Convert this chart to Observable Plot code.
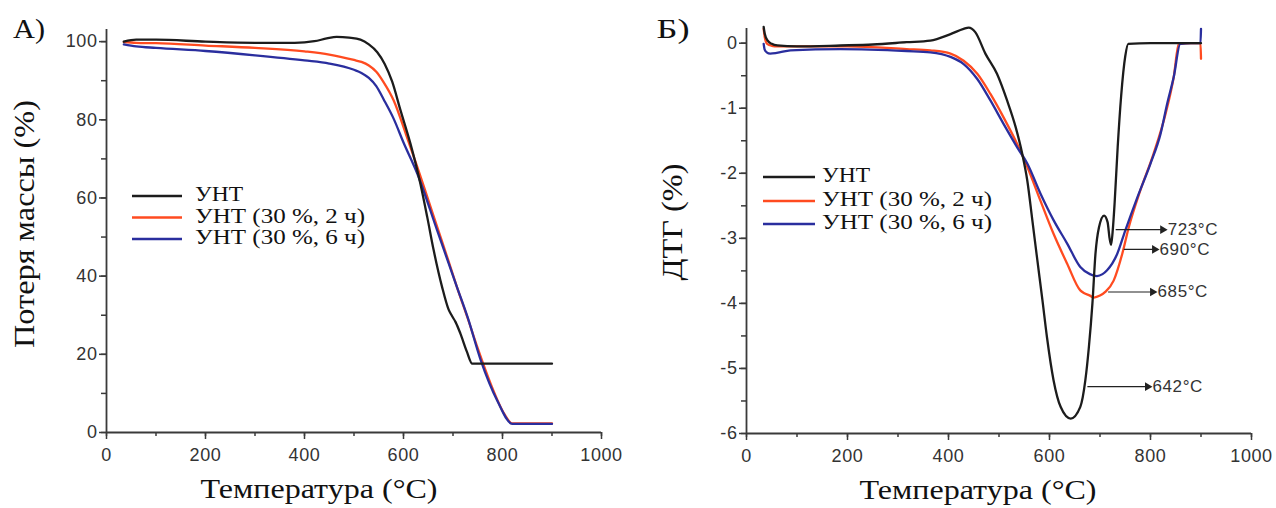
<!DOCTYPE html>
<html>
<head>
<meta charset="utf-8">
<script src="https://cdn.jsdelivr.net/npm/d3@7"></script>
<script src="https://cdn.jsdelivr.net/npm/@observablehq/plot@0.6"></script>
<style>
  html, body { margin: 0; padding: 0; background: #fff; }
  #wrap { position: relative; width: 1276px; height: 508px; overflow: hidden; }
  #wrap > svg, #wrap > figure { position: absolute; top: 0; margin: 0; }
</style>
</head>
<body>
<div id="wrap"></div>
<script>
// ---------- DATA ----------
const seriesNames = ["УНТ", "УНТ (30 %, 2 ч)", "УНТ (30 %, 6 ч)"];
const seriesColors = ["#1c1c1c", "#ff4b20", "#2a2e9e"];

// Panel А: TGA (mass loss, %)
const tgaT0 = [35, 60, 100, 200, 300, 380, 420, 445, 465, 490, 513, 530, 547, 562, 577, 594, 614, 634, 648, 661, 678, 691, 698, 705, 715, 728, 739, 760, 900];
const tgaV0 = [100.0, 100.5, 100.5, 100.0, 99.7, 99.7, 100.1, 100.8, 101.2, 101.0, 100.5, 99.3, 97.3, 94.3, 89.8, 82.4, 73.9, 63.7, 55.1, 46.6, 37.2, 31.5, 29.8, 28.3, 25.3, 20.7, 17.6, 17.6, 17.6];
const tgaT1 = [35, 60, 100, 200, 300, 400, 450, 500, 515, 530, 545, 560, 580, 605, 628, 650, 668, 690, 708, 730, 749, 776, 803, 820, 850, 900];
const tgaV1 = [99.9, 99.7, 99.6, 99.0, 98.4, 97.5, 96.7, 95.3, 94.8, 93.9, 92.3, 89.6, 85.0, 76.3, 67.9, 59.5, 52.6, 44.2, 37.2, 29.1, 21.9, 12.5, 4.9, 2.3, 2.3, 2.3];
const tgaT2 = [35, 60, 100, 200, 300, 400, 450, 500, 515, 530, 545, 560, 580, 600, 628, 668, 708, 730, 756, 790, 820, 850, 900];
const tgaV2 = [99.3, 98.8, 98.4, 97.6, 96.5, 95.2, 94.4, 92.8, 92.0, 90.7, 88.6, 85.2, 80.3, 74.2, 66.2, 51.7, 37.2, 29.3, 18.5, 8.0, 2.2, 2.2, 2.2];

// Panel Б: DTG (%)
const dtgT0 = [34, 36, 42, 50, 61, 100, 186, 250, 317, 364, 404, 430, 440, 453, 473, 496, 516, 533, 546, 556, 566, 576, 586, 595, 608, 622, 642, 661, 671, 678, 685, 691, 698, 708, 715, 719, 722, 725, 729, 735, 742, 750, 756, 800, 860, 900];
const dtgV0 = [0.25, 0.15, 0.04, -0.01, -0.035, -0.05, -0.035, -0.02, 0.015, 0.04, 0.14, 0.22, 0.24, 0.17, -0.16, -0.47, -0.88, -1.29, -1.70, -2.11, -2.72, -3.34, -3.95, -4.52, -5.18, -5.59, -5.77, -5.59, -5.18, -4.67, -4.0, -3.24, -2.83, -2.65, -2.75, -3.0, -3.1, -2.9, -2.45, -1.6, -0.8, -0.2, -0.01, 0, 0, 0];
const dtgT1 = [34, 36, 41, 50, 61, 100, 200, 317, 364, 404, 430, 457, 483, 509, 536, 556, 582, 608, 635, 661, 668, 680, 688, 700, 711, 727, 744, 757, 780, 806, 830, 846, 856, 880, 899, 900];
const dtgV1 = [0.22, 0.1, -0.01, -0.04, -0.05, -0.05, -0.05, -0.09, -0.11, -0.16, -0.27, -0.47, -0.78, -1.14, -1.55, -1.90, -2.42, -2.93, -3.39, -3.80, -3.84, -3.88, -3.91, -3.88, -3.82, -3.65, -3.24, -2.83, -2.26, -1.70, -1.08, -0.52, -0.01, 0, 0, -0.24];
const dtgT2 = [34, 36, 40, 47, 60, 87, 186, 317, 364, 404, 430, 457, 483, 509, 536, 556, 582, 608, 635, 661, 680, 694, 705, 714, 734, 750, 774, 800, 820, 833, 846, 859, 880, 899, 900];
const dtgV2 = [-0.01, -0.1, -0.14, -0.16, -0.15, -0.11, -0.09, -0.12, -0.14, -0.21, -0.32, -0.55, -0.88, -1.24, -1.60, -1.85, -2.31, -2.72, -3.08, -3.44, -3.55, -3.58, -3.55, -3.49, -3.24, -2.88, -2.37, -1.85, -1.39, -0.93, -0.52, -0.01, 0, 0, 0.22];

// Peak annotations (panel Б)
const annLabels = ["723°C", "690°C", "685°C", "642°C"];
const annX1 = [731, 747, 716, 675];
const annX2 = [830, 814, 810, 800];
const annY = [-2.866, -3.17, -3.825, -5.28];

// Ticks
const xMajor = [0, 200, 400, 600, 800, 1000];
const xMinor = [0, 100, 200, 300, 400, 500, 600, 700, 800, 900, 1000];
const yMajorA = [0, 20, 40, 60, 80, 100];
const yMinorA = [0, 10, 20, 30, 40, 50, 60, 70, 80, 90, 100];
const yMajorB = [-6, -5, -4, -3, -2, -1, 0];
const yMinorB = [-6, -5.5, -5, -4.5, -4, -3.5, -3, -2.5, -2, -1.5, -1, -0.5, 0];

// ---------- BUILD ----------
function rows(Ts, Vs, name) { return Ts.map((t, i) => ({T: t, v: Vs[i], s: name})); }
const tga = [rows(tgaT1, tgaV1, seriesNames[1]), rows(tgaT2, tgaV2, seriesNames[2]), rows(tgaT0, tgaV0, seriesNames[0])];
const dtg = [rows(dtgT1, dtgV1, seriesNames[1]), rows(dtgT2, dtgV2, seriesNames[2]), rows(dtgT0, dtgV0, seriesNames[0])];
const ann = annLabels.map((l, i) => ({label: l, x1: annX1[i], x2: annX2[i], y: annY[i]}));
const colorOf = Object.fromEntries(seriesNames.map((n, i) => [n, seriesColors[i]]));

const axisColor = "#3a3a3a";
const tickFont = "'Liberation Sans', Arial, sans-serif";

function axes(yMajor, yMinor, yBase) {
  return [
    Plot.axisX({ticks: xMinor, tickSize: 4, tickFormat: () => "", stroke: axisColor, strokeWidth: 1.5, label: null}),
    Plot.axisX({ticks: xMajor, tickSize: 7, tickPadding: 9, tickFormat: d => String(d), stroke: axisColor, fill: "#333", strokeWidth: 1.5, fontSize: 18, label: null}),
    Plot.axisY({ticks: yMinor, tickSize: 5, tickFormat: () => "", stroke: axisColor, strokeWidth: 1.5, label: null}),
    Plot.axisY({ticks: yMajor, tickSize: 7, tickPadding: 2, tickFormat: d => String(d), stroke: axisColor, fill: "#333", strokeWidth: 1.5, fontSize: 18, label: null}),
    Plot.ruleX([0], {stroke: axisColor, strokeWidth: 1.8}),
    Plot.ruleY([yBase], {stroke: axisColor, strokeWidth: 1.8})
  ];
}
function lines(data) {
  return data.map(d => Plot.line(d, {x: "T", y: "v", stroke: colorOf[d[0].s], strokeWidth: 2.3, curve: "monotone-x"}));
}
const plotStyle = {fontFamily: tickFont, fontSize: "18px", color: "#333", background: "transparent", overflow: "visible", letterSpacing: "0.6px"};

const plotA = Plot.plot({
  width: 638, height: 508,
  marginLeft: 106, marginRight: 37, marginTop: 29, marginBottom: 76,
  x: {domain: [0, 1000]},
  y: {domain: [0, 103.1]},
  style: plotStyle,
  marks: [...axes(yMajorA, yMinorA, 0), ...lines(tga)]
});

const plotB = Plot.plot({
  width: 638, height: 508,
  marginLeft: 108, marginRight: 25, marginTop: 28, marginBottom: 75,
  x: {domain: [0, 1000]},
  y: {domain: [-6, 0.226]},
  style: plotStyle,
  marks: [
    ...axes(yMajorB, yMinorB, -6),
    ...lines(dtg),
    Plot.link(ann, {x1: "x1", x2: "x2", y1: "y", y2: "y", stroke: "#222", strokeWidth: 1.2}),
    Plot.dot(ann, {x: "x2", y: "y", symbol: "triangle", rotate: 90, r: 3.2, fill: "#222", stroke: "none", dx: -3}),
    Plot.text(ann, {x: "x2", y: "y", text: "label", textAnchor: "start", dx: 2, fontSize: 17, fill: "#333", fontFamily: tickFont})
  ]
});

const wrap = document.getElementById("wrap");
plotA.style.left = "0px";
plotB.style.left = "638px";
wrap.appendChild(plotA);
wrap.appendChild(plotB);

// Overlay: legends, titles, panel labels
const serif = "'Liberation Serif', 'Times New Roman', serif";
const ov = d3.select(wrap).append("svg")
  .attr("width", 1276).attr("height", 508)
  .style("position", "absolute").style("left", "0px").style("top", "0px")
  .style("pointer-events", "none");

const legendWidths = [48, 170, 170];
function legend(x0, x1, xt, ys) {
  seriesNames.forEach((n, i) => {
    ov.append("line").attr("x1", x0).attr("x2", x1).attr("y1", ys[i]).attr("y2", ys[i])
      .attr("stroke", seriesColors[i]).attr("stroke-width", 2.5);
    ov.append("text").attr("x", xt).attr("y", ys[i] + 5).text(n)
      .attr("font-family", serif).attr("font-size", 20).attr("fill", "#111")
      .attr("textLength", legendWidths[i]).attr("lengthAdjust", "spacingAndGlyphs");
  });
}
legend(132, 182, 195, [196, 217.5, 239]);
legend(763, 815, 822, [177, 201, 224]);

function text(x, y, s, size, len, rot) {
  const t = ov.append("text").attr("font-family", serif).attr("font-size", size).attr("fill", "#111").text(s)
    .attr("text-anchor", "middle");
  if (len) t.attr("textLength", len).attr("lengthAdjust", "spacingAndGlyphs");
  if (rot) t.attr("transform", `translate(${x},${y}) rotate(-90)`);
  else t.attr("x", x).attr("y", y);
  return t;
}
text(319, 498, "Температура (°C)", 28, 237);
text(978, 499, "Температура (°C)", 28, 237);
text(34, 224, "Потеря массы (%)", 30, 248, true);
text(682, 222, "ДТГ (%)", 30, 117, true);
text(29, 38, "А)", 28, 32);
text(673, 38, "Б)", 28, 33);
</script>
</body>
</html>
